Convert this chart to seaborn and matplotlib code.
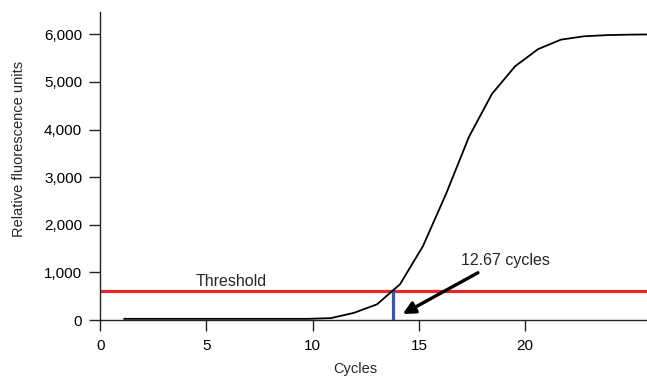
import matplotlib
matplotlib.use("Agg")
import matplotlib.pyplot as plt
from matplotlib.ticker import FuncFormatter
import seaborn as sns
import pandas as pd

# Curva de amplificação (posições lidas no eixo da figura)
cycle_x = [1.12, 2.20, 3.28, 4.36, 5.45, 6.53, 7.61, 8.70, 9.78, 10.86,
           11.94, 13.03, 14.11, 15.19, 16.28, 17.36, 18.44, 19.53, 20.61,
           21.69, 22.77, 23.86, 24.94, 26.02]
rfu = [25, 25, 25, 25, 25, 25, 25, 25, 25, 40,
       150, 330, 750, 1550, 2650, 3850, 4750, 5330, 5690,
       5890, 5960, 5985, 5995, 6000]

threshold = 600
ct_x = 13.78
ct_label = "12.67 cycles"

x_ticks = [0, 5, 10, 15, 20]
y_ticks = [0, 1000, 2000, 3000, 4000, 5000, 6000]

df = pd.DataFrame({"Cycles": cycle_x, "RFU": rfu})

sns.set_style("ticks")
plt.rcParams["font.family"] = ["Liberation Sans", "DejaVu Sans"]

fig = plt.figure(figsize=(6.47, 3.78), dpi=100)
ax = fig.add_axes([0.155, 0.1534, 0.845, 0.8148])

# Linha de threshold e Ct
ax.axhline(threshold, color="#e5262b", lw=2.3, zorder=2)
ax.plot([ct_x, ct_x], [0, threshold], color="#3c56a8", lw=2.3, zorder=3)
sns.lineplot(data=df, x="Cycles", y="RFU", color="black", lw=1.3, ax=ax, zorder=4)

ax.text(4.47, 714, "Threshold", fontsize=11.5, ha="left", va="baseline")
ax.text(17.0, 1155, ct_label, fontsize=11.5, ha="left", va="baseline")
ax.annotate("", xy=(14.24, 126), xytext=(17.78, 993),
            arrowprops=dict(arrowstyle="-|>", lw=2.4, color="black",
                            mutation_scale=18, shrinkA=0, shrinkB=0))

ax.set_xlim(0, 25.74)
ax.set_ylim(0, 6470)
ax.set_xticks(x_ticks)
ax.set_yticks(y_ticks)
ax.yaxis.set_major_formatter(FuncFormatter(lambda v, p: f"{int(v):,}"))

ax.set_xlabel("Cycles", fontsize=10.5)
ax.set_ylabel("Relative fluorescence units", fontsize=10.5)
ax.xaxis.set_label_coords(0.466, -0.137)
ax.yaxis.set_label_coords(-0.135, 0.555)

sns.despine(ax=ax)
for side in ["left", "bottom"]:
    ax.spines[side].set_color("#222222")
    ax.spines[side].set_linewidth(1.0)
ax.tick_params(axis="both", direction="out", length=8, width=1.0,
               color="#222222", labelsize=11, labelcolor="black")
ax.tick_params(axis="x", pad=6)
ax.tick_params(axis="y", pad=5)

fig.savefig("out.png", dpi=100)
